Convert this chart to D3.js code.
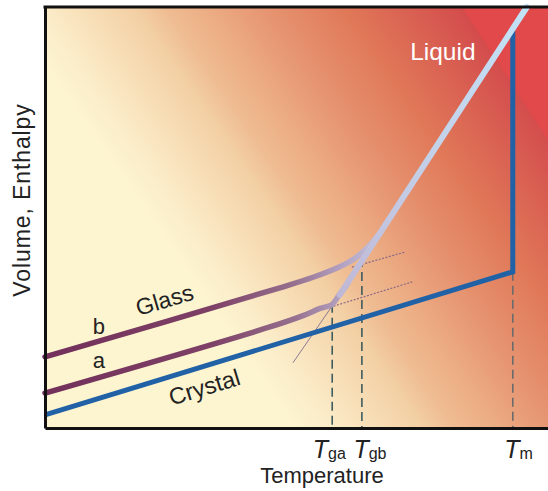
<!DOCTYPE html>
<html>
<head>
<meta charset="utf-8">
<script src="https://cdn.jsdelivr.net/npm/d3@7"></script>
<style>
  body { margin: 0; background: #fff; }
  svg { display: block; font-family: "Liberation Sans", Arial, sans-serif; }
</style>
</head>
<body>
<svg id="chart" width="548" height="491"></svg>
<script>
// volume / enthalpy against temperature, arbitrary units 0-100 on both axes
var crystalT = [0, 93, 93];
var crystalV = [3.1, 37.1, 94.3];
var liquidT = [58.6, 66.6, 95.8];
var liquidV = [31.6, 46.3, 100];
var supercooledT = [49.3, 58.6];
var supercooledV = [15.5, 31.6];
var glassBT = [0, 46.7, 53.3, 58.6, 61.5, 63.6, 65.0, 66.6];
var glassBV = [16.9, 33.3, 35.8, 38.3, 40.2, 42.3, 44.0, 46.3];
var glassAT = [0, 44.7, 51.3, 54.7, 57.0, 58.6, 60.2];
var glassAV = [8.3, 24.0, 26.7, 28.4, 29.3, 31.8, 34.3];
var extBT = [61.0, 71.6];
var extBV = [38.2, 41.8];
var extAT = [56.7, 73.0];
var extAV = [28.7, 34.7];
var tickNames = ["ga", "gb", "m"];
var tickT = [57.1, 63.0, 93];
var tickTopV = [29.5, 40.4, 37.1];

var W = 548, H = 491;
var padL = 45, padT = 7, axisY = 428;

var x = d3.scaleLinear().domain([0, 100]).range([padL, W]);
var y = d3.scaleLinear().domain([0, 100]).range([axisY, padT]);

var svg = d3.select("#chart");
var defs = svg.append("defs");

function pts(ts, vs) { return ts.map(function(t, i) { return [t, vs[i]]; }); }

//background: cream bottom-left to crimson top-right
var bg = defs.append("linearGradient")
    .attr("id", "bg")
    .attr("gradientUnits", "userSpaceOnUse")
    .attr("x1", 170).attr("y1", 245)
    .attr("x2", 517).attr("y2", 6);
[[0, "#fdf4d0"], [0.07, "#fbecc8"], [0.25, "#f3cfa4"], [0.31, "#efbc92"], [0.4, "#ecab82"],
 [0.5, "#e69572"], [0.66, "#e07858"], [0.86, "#d5524e"], [1, "#cc3446"]]
  .forEach(function(s) { bg.append("stop").attr("offset", s[0]).attr("stop-color", s[1]); });

svg.append("rect")
    .attr("x", padL).attr("y", padT)
    .attr("width", W - padL).attr("height", axisY - padT)
    .attr("fill", "url(#bg)");

// brighter red wedge in the corner
svg.append("path")
    .attr("d", "M" + x(82.9) + "," + y(100) + "L" + x(100) + "," + y(100) + "L" + x(100) + "," + y(68.4) + "Z")
    .attr("fill", "#e2494a");

//stroke gradients
var glassGrad = defs.append("linearGradient")
    .attr("id", "glass")
    .attr("gradientUnits", "userSpaceOnUse")
    .attr("x1", x(0)).attr("y1", 0)
    .attr("x2", x(66)).attr("y2", 0);
[[0, "#72305a"], [0.5, "#7e4066"], [0.75, "#96708e"], [0.9, "#b4a4c4"], [1, "#c2bfdb"]]
  .forEach(function(s) { glassGrad.append("stop").attr("offset", s[0]).attr("stop-color", s[1]); });

var liqGrad = defs.append("linearGradient")
    .attr("id", "liq")
    .attr("gradientUnits", "userSpaceOnUse")
    .attr("x1", x(liquidT[0])).attr("y1", y(liquidV[0]))
    .attr("x2", x(liquidT[2])).attr("y2", y(liquidV[2]));
[[0, "#bfb8d6"], [0.35, "#c4cbe4"], [1, "#c2e3f7"]]
  .forEach(function(s) { liqGrad.append("stop").attr("offset", s[0]).attr("stop-color", s[1]); });

var straight = d3.line().x(function(d) { return x(d[0]); }).y(function(d) { return y(d[1]); });
var smooth = d3.line().curve(d3.curveCatmullRom.alpha(0.5))
    .x(function(d) { return x(d[0]); }).y(function(d) { return y(d[1]); });

//vertical dashed drop lines
tickT.forEach(function(t, i) {
  svg.append("line")
      .attr("x1", x(t)).attr("x2", x(t))
      .attr("y1", y(tickTopV[i])).attr("y2", y(0))
      .attr("stroke", i < 2 ? "#3f5c5e" : "#6b6b6b")
      .attr("stroke-width", 1.6)
      .attr("stroke-dasharray", "9,5");
});

// thin supercooled liquid extension and dotted glass extrapolations
svg.append("path")
    .attr("d", straight(pts(supercooledT, supercooledV)))
    .attr("fill", "none").attr("stroke", "#8c7a92").attr("stroke-width", 1);
[[extBT, extBV], [extAT, extAV]].forEach(function(e) {
  svg.append("path")
      .attr("d", straight(pts(e[0], e[1])))
      .attr("fill", "none").attr("stroke", "#8a6a86")
      .attr("stroke-width", 1.2).attr("stroke-dasharray", "2,1.5");
});

//crystal
svg.append("path")
    .attr("d", straight(pts(crystalT, crystalV)))
    .attr("fill", "none").attr("stroke", "#2162a7")
    .attr("stroke-width", 5).attr("stroke-linejoin", "miter");

//glass a, glass b
[[glassAT, glassAV], [glassBT, glassBV]].forEach(function(g) {
  svg.append("path")
      .attr("d", smooth(pts(g[0], g[1])))
      .attr("fill", "none").attr("stroke", "url(#glass)")
      .attr("stroke-width", 5.5).attr("stroke-linecap", "round");
});

//liquid
svg.append("path")
    .attr("d", straight(pts(liquidT, liquidV)))
    .attr("fill", "none").attr("stroke", "url(#liq)")
    .attr("stroke-width", 6).attr("stroke-linecap", "round");

//labels
svg.append("text")
    .attr("x", x(72.6)).attr("y", y(87.4))
    .attr("font-size", 24.5).attr("fill", "#fff")
    .text("Liquid");
svg.append("text")
    .attr("transform", "translate(" + x(18.6) + "," + y(26.6) + ") rotate(-16.5)")
    .attr("font-size", 23).attr("fill", "#222")
    .text("Glass");
svg.append("text")
    .attr("transform", "translate(" + x(25.2) + "," + y(5.3) + ") rotate(-17)")
    .attr("font-size", 23.5).attr("fill", "#222")
    .text("Crystal");
svg.append("text")
    .attr("x", x(9.5)).attr("y", y(22.3))
    .attr("font-size", 22).attr("fill", "#222").text("b");
svg.append("text")
    .attr("x", x(9.5)).attr("y", y(14.3))
    .attr("font-size", 22).attr("fill", "#222").text("a");

//axes
var xAxis = svg.append("g")
    .attr("transform", "translate(0," + axisY + ")")
    .call(d3.axisBottom(x).tickValues(tickT).tickSize(0).tickSizeOuter(0).tickFormat(function() { return ""; }));
xAxis.select(".domain").attr("stroke", "#111").attr("stroke-width", 3);

var labelShift = {ga: -20, gb: -9, m: -9};
xAxis.selectAll(".tick text").each(function(d, i) {
  var t = d3.select(this)
      .attr("y", 30).attr("dy", 0)
      .attr("x", labelShift[tickNames[i]])
      .attr("text-anchor", "start")
      .attr("fill", "#222");
  t.append("tspan").attr("font-size", 25).attr("font-style", "italic").text("T");
  t.append("tspan").attr("font-size", 16).attr("dx", 0).attr("dy", 1).text(tickNames[i]);
});

var yAxis = svg.append("g")
    .attr("transform", "translate(" + padL + ",0)")
    .call(d3.axisLeft(y).tickValues([]).tickSize(0).tickSizeOuter(0));
yAxis.select(".domain").attr("stroke", "#111").attr("stroke-width", 3);

svg.append("line")
    .attr("x1", padL - 1.5).attr("x2", W)
    .attr("y1", padT).attr("y2", padT)
    .attr("stroke", "#111").attr("stroke-width", 3);

svg.append("text")
    .attr("x", 322).attr("y", 483)
    .attr("text-anchor", "middle")
    .attr("font-size", 22).attr("fill", "#222")
    .text("Temperature");
svg.append("text")
    .attr("transform", "translate(30,200) rotate(-90)")
    .attr("text-anchor", "middle")
    .attr("font-size", 23).attr("letter-spacing", 0.9).attr("fill", "#222")
    .text("Volume, Enthalpy");
</script>
</body>
</html>
